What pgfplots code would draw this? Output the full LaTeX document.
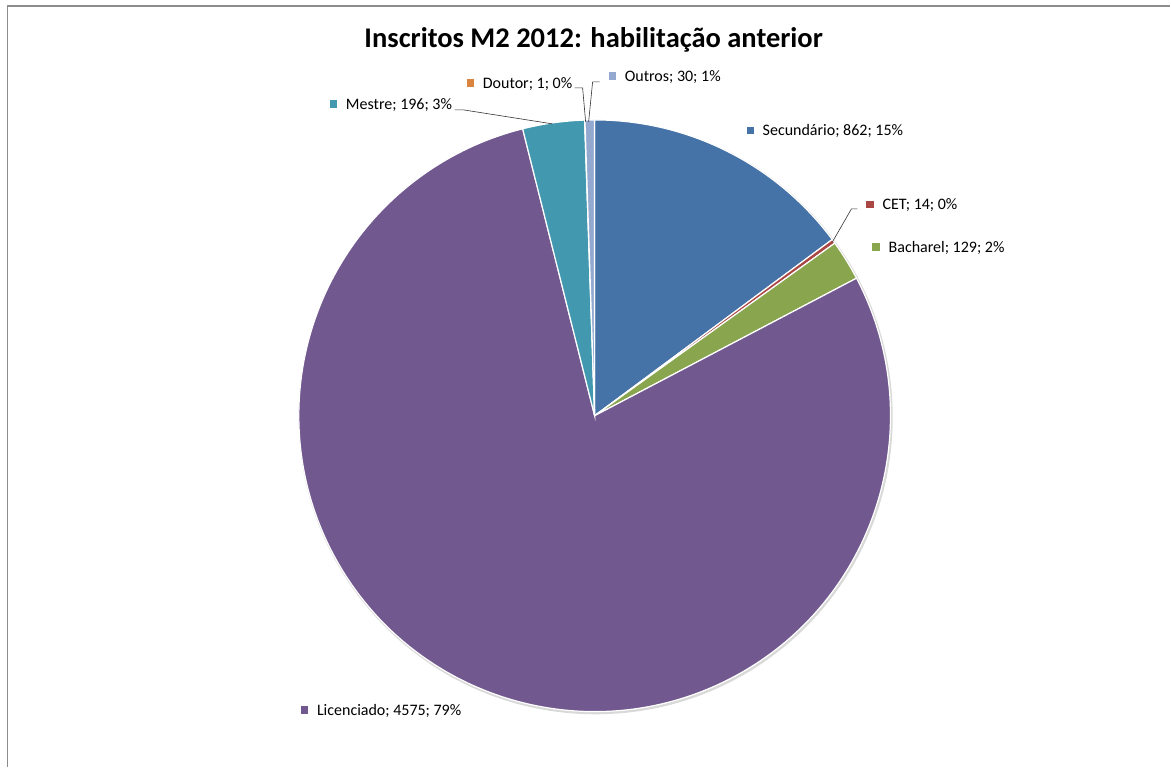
\documentclass[border=0pt]{standalone}
\usepackage{fontspec}
\setmainfont{Carlito}
\usepackage{pgfplots}
\pgfplotsset{compat=1.18}
\definecolor{cSec}{HTML}{4572A7}
\definecolor{cCET}{HTML}{AA4643}
\definecolor{cBac}{HTML}{89A54E}
\definecolor{cLic}{HTML}{71588F}
\definecolor{cMes}{HTML}{4198AF}
\definecolor{cDou}{HTML}{DB843D}
\definecolor{cOut}{HTML}{93A9CF}
\definecolor{frame}{HTML}{8C8C8C}
\begin{document}
\begin{tikzpicture}
\begin{axis}[x=1pt,y=1pt,xmin=0,xmax=1171,ymin=0,ymax=767,hide axis,clip=false,
  scale only axis]
\pgfplotsextra{
  \path (axis cs:0,0) rectangle (axis cs:1171,767);
  \draw[frame,line width=1.5pt] (axis cs:7.5,0) -- (axis cs:7.5,761) -- (axis cs:1171,761);
  % title
  \node[anchor=base,inner sep=0pt,font=\fontsize{28.5}{32}\selectfont\bfseries] at (axis cs:594,719) {Inscritos M2 2012: habilitação anterior};
  % soft shadow
  \draw[black!15,line width=2.5pt] (axis cs:596,349.5) circle[radius=296pt];
  % slices
  \def\total{5807}
  \xdef\cum{90}
  \foreach \v/\c in {862/cSec,14/cCET,129/cBac,4575/cLic,196/cMes,1/cDou,30/cOut}{
    \pgfmathsetmacro\e{\cum-\v/\total*360}
    \fill[\c,draw=white,line width=1.2pt] (axis cs:595,351) -- ++(\cum:296pt) arc[start angle=\cum,end angle=\e,radius=296pt] -- cycle;
    \xdef\cum{\e}
  }
  % leader lines
  \draw[black!80,line width=0.6pt] (axis cs:455,657) -- (axis cs:464,657) -- (axis cs:553,643);
  \draw[black!80,line width=0.6pt] (axis cs:575,679) -- (axis cs:583,679) -- (axis cs:586,645);
  \draw[black!80,line width=0.6pt] (axis cs:600,685) -- (axis cs:593,685) -- (axis cs:589,645);
  \draw[black!80,line width=0.6pt] (axis cs:858,558) -- (axis cs:852,558) -- (axis cs:833,525);
  % label keys and texts
  \foreach \x/\y/\c/\t in {
    747/636.5/cSec/{Secundário; 862; 15\%},
    867/562.5/cCET/{CET; 14; 0\%},
    873/520/cBac/{Bacharel; 129; 2\%},
    301/56.5/cLic/{Licenciado; 4575; 79\%},
    330/663/cMes/{Mestre; 196; 3\%},
    467/684/cDou/{Doutor; 1; 0\%},
    609/691/cOut/{Outros; 30; 1\%}}{
    \fill[\c] (axis cs:\x,\y-3.8) rectangle (axis cs:\x+7.6,\y+3.8);
    \node[anchor=base west,inner sep=0pt,font=\fontsize{16}{19}\selectfont] at (axis cs:\x+16,\y-5.3) {\t};
  }
}
\end{axis}
\end{tikzpicture}
\end{document}
